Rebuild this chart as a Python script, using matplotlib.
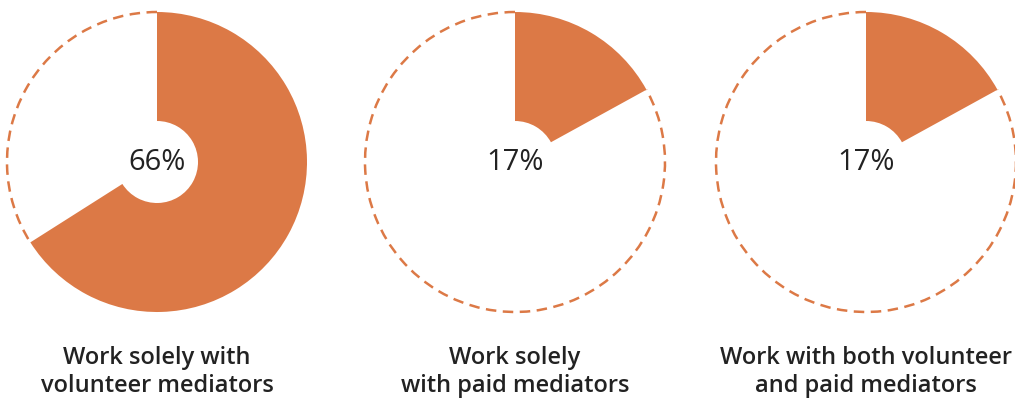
import matplotlib; matplotlib.use("Agg")
import matplotlib.pyplot as plt
from matplotlib.patches import Wedge, Arc

labels = ["Work solely with\nvolunteer mediators",
          "Work solely\nwith paid mediators",
          "Work with both volunteer\nand paid mediators"]
shares = [66, 17, 17]
pct_text = ["66%", "17%", "17%"]

ORANGE = "#DC7946"; INK = "#222222"
W, H = 1015, 401
centers_x = [157, 515, 866]   # pixel centres of the three rings
cy = H - 162; R = 150; r_in = 41

fig = plt.figure(figsize=(W/100, H/100), dpi=100)
ax = fig.add_axes([0, 0, 1, 1])
ax.set_xlim(0, W); ax.set_ylim(0, H); ax.set_aspect("equal"); ax.axis("off")

for cx, s, t, lab in zip(centers_x, shares, pct_text, labels):
    end = 90 - s/100*360
    ax.add_patch(Wedge((cx, cy), R, end, 90, width=R-r_in, facecolor=ORANGE, edgecolor="none"))
    # dashed outline over the remaining part
    ax.add_patch(Arc((cx, cy), 2*R, 2*R, theta1=90, theta2=end+360, color=ORANGE,
                     lw=1.8, ls=(0, (4.2, 2.6))))
    ax.text(cx, cy, t, ha="center", va="center", fontsize=21, color=INK, family="Open Sans")
    ax.text(cx, H-372, lab, ha="center", va="center", fontsize=17, color=INK,
            family="Open Sans", weight="semibold", linespacing=1.25)

fig.savefig("out.png", dpi=100)
